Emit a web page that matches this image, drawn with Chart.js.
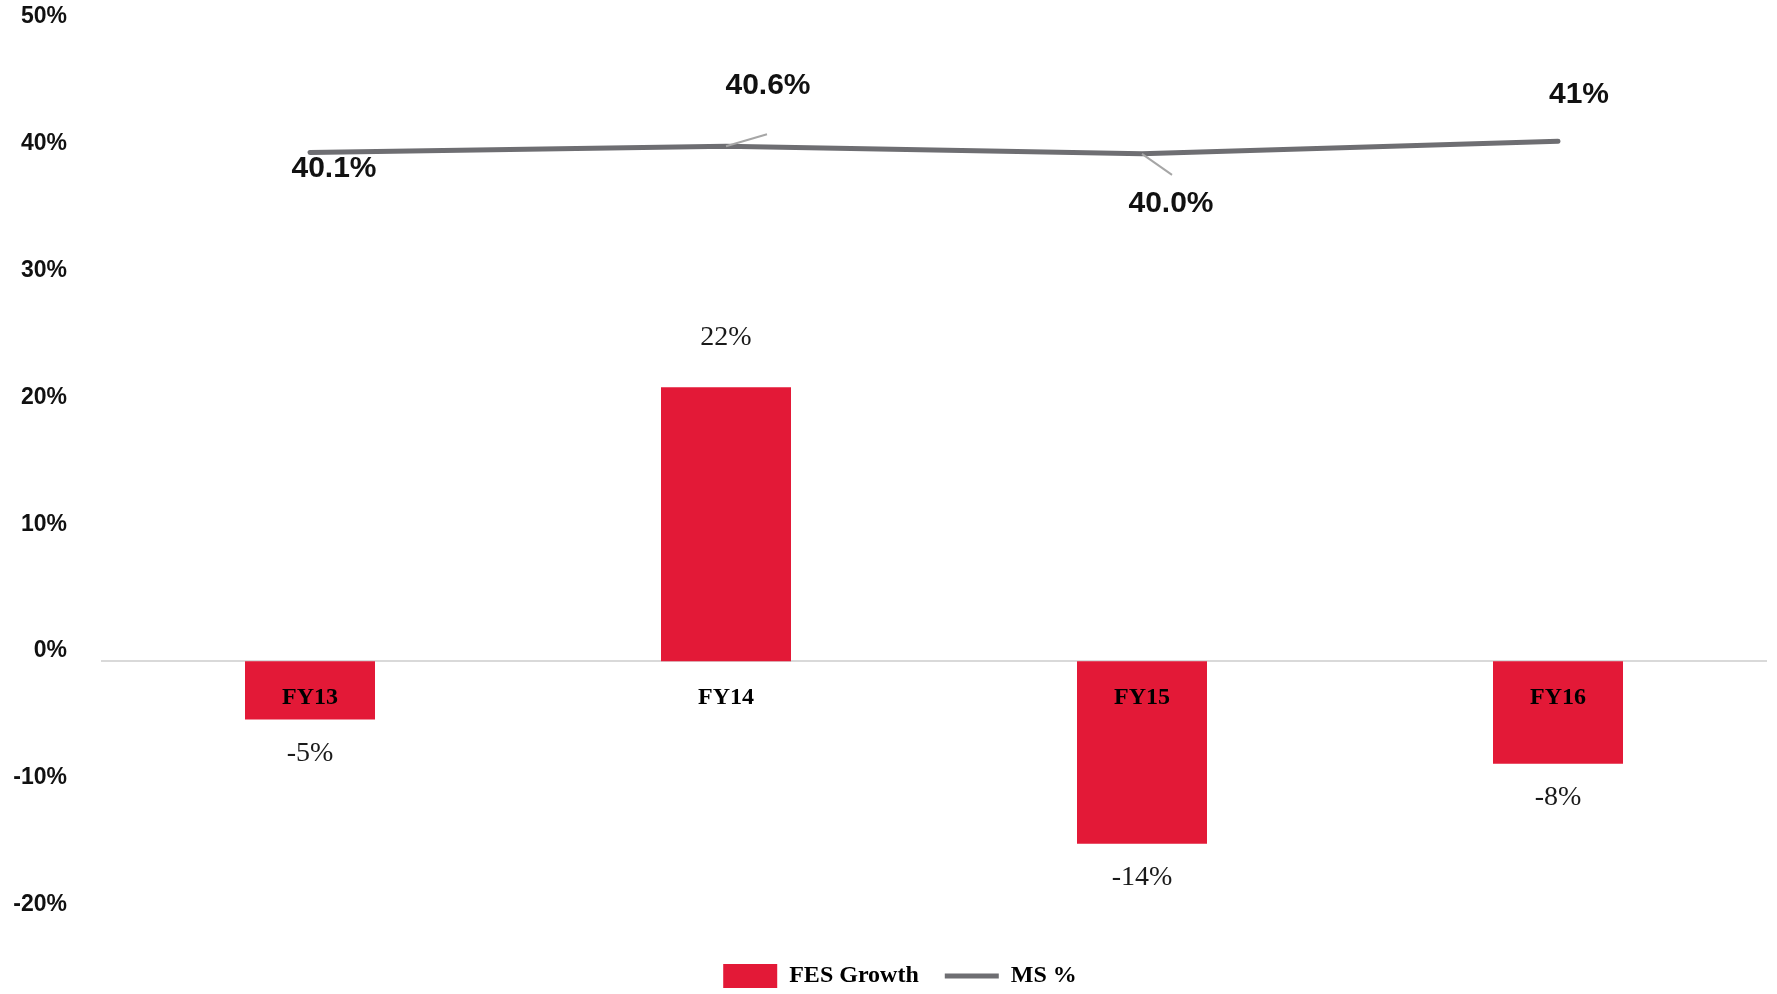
<!DOCTYPE html>
<html>
<head>
<meta charset="utf-8">
<title>FES Growth vs MS %</title>
<script src="https://cdn.jsdelivr.net/npm/chart.js@4.4.1/dist/chart.umd.min.js"></script>
<style>
  html, body { margin: 0; padding: 0; background: #fff; }
  #wrap { width: 1777px; height: 994px; position: relative; }
</style>
</head>
<body>
<div id="wrap"><canvas id="chart"></canvas></div>
<script>
// chart data
const categories = ['FY13', 'FY14', 'FY15', 'FY16'];
const fesGrowth = [-4.6, 21.6, -14.4, -8.1];
const fesGrowthLabels = ['-5%', '22%', '-14%', '-8%'];
const msShare = [40.1, 40.6, 40.0, 41.0];
const msShareLabels = ['40.1%', '40.6%', '40.0%', '41%'];
const yTicks = [-20, -10, 0, 10, 20, 30, 40, 50];

const RED = '#e31937';
const GREY = '#6e6e72';

// where the value labels sit relative to their mark
const barLabelStyle = { font: '28px "Liberation Serif", serif', color: '#1a1a1a', above: 50, below: 34 };
const lineLabelStyle = {
    font: 'bold 30px "Liberation Sans", sans-serif',
    color: '#111',
    offsets: [[24, 16], [42, -60], [29, 50], [21, -46]],
    leaders: [null, [41, -12], [30, 21], null]
};

const valueLabels = {
    id: 'valueLabels',
    afterLayout(chart) {
        // legend sits a little right of centre in the original
        chart.legend.left += 17;
        chart.legend.right += 17;
    },
    afterDatasetsDraw(chart) {
        const ctx = chart.ctx;
        ctx.save();
        ctx.textAlign = 'center';
        ctx.textBaseline = 'middle';

        // bar values
        ctx.font = barLabelStyle.font;
        ctx.fillStyle = barLabelStyle.color;
        chart.getDatasetMeta(0).data.forEach((bar, i) => {
            const y = fesGrowth[i] >= 0 ? bar.y - barLabelStyle.above : bar.y + barLabelStyle.below;
            ctx.fillText(fesGrowthLabels[i], bar.x, y);
        });

        // line values with leader lines
        chart.getDatasetMeta(1).data.forEach((pt, i) => {
            const lead = lineLabelStyle.leaders[i];
            if (lead) {
                ctx.beginPath();
                ctx.strokeStyle = '#a6a6a6';
                ctx.lineWidth = 2;
                ctx.moveTo(pt.x, pt.y);
                ctx.lineTo(pt.x + lead[0], pt.y + lead[1]);
                ctx.stroke();
            }
            const [dx, dy] = lineLabelStyle.offsets[i];
            ctx.font = lineLabelStyle.font;
            ctx.fillStyle = lineLabelStyle.color;
            ctx.fillText(msShareLabels[i], pt.x + dx, pt.y + dy);
        });
        ctx.restore();
    }
};

new Chart(document.getElementById('chart'), {
    data: {
        labels: categories,
        datasets: [
            {
                type: 'bar',
                label: 'FES Growth',
                data: fesGrowth,
                backgroundColor: RED,
                borderWidth: 0,
                barPercentage: 0.3125,
                categoryPercentage: 1,
                pointStyle: 'rect'
            },
            {
                type: 'line',
                label: 'MS %',
                data: msShare,
                borderColor: GREY,
                borderWidth: 5,
                borderCapStyle: 'round',
                tension: 0,
                pointRadius: 0,
                pointStyle: 'line',
                pointBorderColor: GREY,
                pointBorderWidth: 5
            }
        ]
    },
    options: {
        responsive: true,
        maintainAspectRatio: false,
        animation: false,
        events: [],
        layout: { padding: { top: 27, right: 11, bottom: -4, left: 0 } },
        scales: {
            x: {
                position: { y: 0 },
                offset: true,
                grid: { display: false, drawTicks: false },
                border: { display: true, color: '#d9d9d9', width: 2 },
                ticks: {
                    z: 1,
                    padding: 22,
                    color: '#000',
                    font: { family: 'Liberation Serif', size: 24, weight: 'bold' }
                }
            },
            y: {
                min: -20,
                max: 50,
                afterFit: s => {
                    s.width = 102;
                    s.paddingTop = 0;
                    s.paddingBottom = 0;
                },
                afterBuildTicks: s => { s.ticks = yTicks.map(v => ({ value: v })); },
                grid: { display: false, drawTicks: false },
                border: { display: false },
                ticks: {
                    padding: 35,
                    labelOffset: -10,
                    color: '#111',
                    font: { family: 'Liberation Sans', size: 23, weight: 'bold' },
                    callback: v => v + '%'
                }
            }
        },
        plugins: {
            tooltip: { enabled: false },
            legend: {
                position: 'bottom',
                title: { display: true, text: '', padding: { top: 22, bottom: 0 }, font: { size: 1 } },
                labels: {
                    usePointStyle: true,
                    pointStyleWidth: 54,
                    boxHeight: 24,
                    padding: 26,
                    color: '#000',
                    font: { family: 'Liberation Serif', size: 24, weight: 'bold' }
                }
            }
        }
    },
    plugins: [valueLabels]
});
</script>
</body>
</html>
